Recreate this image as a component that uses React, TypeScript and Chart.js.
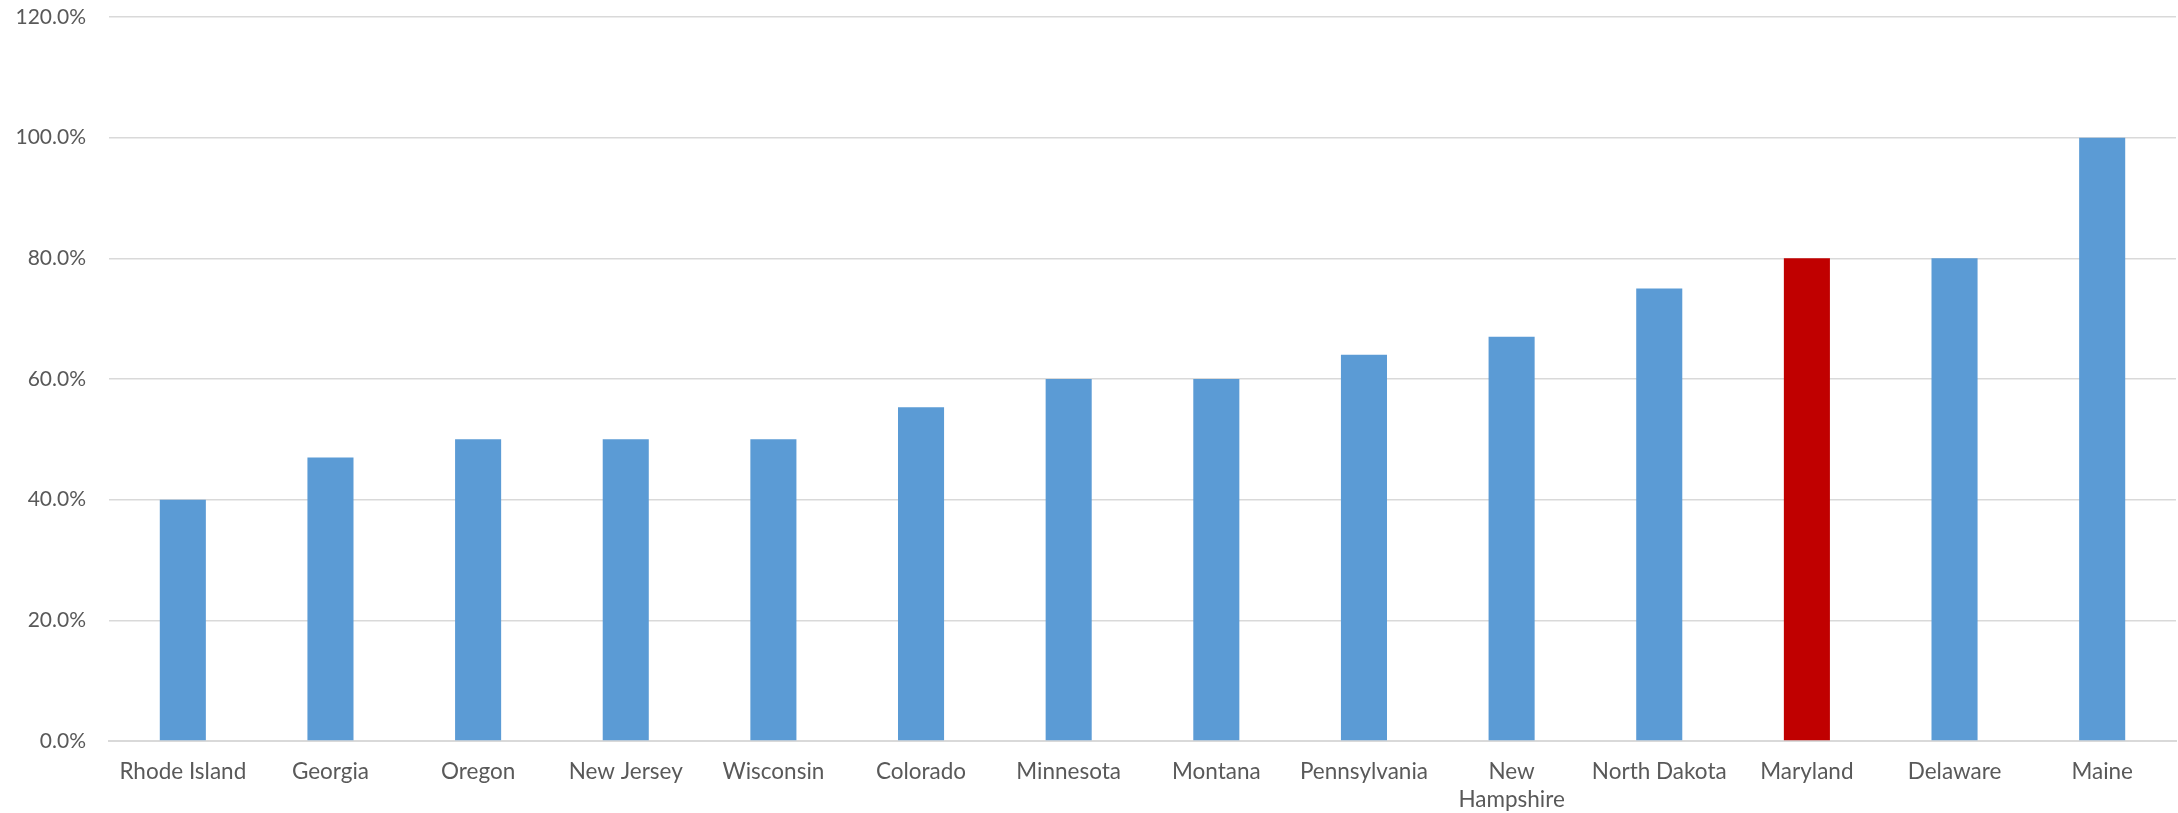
import React, { useEffect, useRef } from "react";
import { Chart, registerables } from "chart.js";

Chart.register(...registerables);

const categories: (string | string[])[] = [
  "Rhode Island",
  "Georgia",
  "Oregon",
  "New Jersey",
  "Wisconsin",
  "Colorado",
  "Minnesota",
  "Montana",
  "Pennsylvania",
  ["New", "Hampshire"],
  "North Dakota",
  "Maryland",
  "Delaware",
  "Maine",
];

const values: number[] = [40, 47, 50, 50, 50, 55.3, 60, 60, 64, 67, 75, 80, 80, 100];

const highlightIndex = 11;
const baseColor = "#5B9BD5";
const highlightColor = "#C00000";

const yMin = 0;
const yMax = 120;
const yStep = 20;

export default function App() {
  const canvasRef = useRef<HTMLCanvasElement | null>(null);

  useEffect(() => {
    document.body.style.margin = "0";
    const canvas = canvasRef.current;
    if (!canvas) return;
    const chart = new Chart(canvas, {
      type: "bar",
      data: {
        labels: categories,
        datasets: [
          {
            data: values,
            backgroundColor: values.map((_, i) => (i === highlightIndex ? highlightColor : baseColor)),
            borderWidth: 0,
            barPercentage: 0.312,
            categoryPercentage: 1,
          },
        ],
      },
      options: {
        animation: false,
        responsive: false,
        maintainAspectRatio: false,
        layout: { autoPadding: false, padding: { top: 17, right: 2, bottom: 0, left: 0 } },
        plugins: {
          legend: { display: false },
          tooltip: { enabled: false },
          title: { display: false },
        },
        scales: {
          x: {
            grid: { display: false, drawTicks: false },
            border: { display: true, color: "#d9d9d9", width: 2 },
            ticks: {
              color: "#595959",
              font: { family: "Lato", size: 22.5, lineHeight: 1.28 },
              padding: 16,
              maxRotation: 0,
              minRotation: 0,
              autoSkip: false,
            },
            afterFit: (scale: any) => {
              scale.height = 72;
            },
          },
          y: {
            min: yMin,
            max: yMax,
            grid: { color: "#d9d9d9", lineWidth: 1.5, drawTicks: false },
            border: { display: false },
            ticks: {
              stepSize: yStep,
              color: "#595959",
              font: { family: "Lato", size: 21, lineHeight: 1.2 },
              padding: 23,
              callback: (v: any) => Number(v).toFixed(1) + "%",
            },
            afterFit: (scale: any) => {
              scale.width = 109;
              scale.paddingTop = 0;
              scale.paddingBottom = 0;
            },
          },
        },
      },
    });
    return () => chart.destroy();
  }, []);

  return (
    <div style={{ width: 2178, height: 813 }}>
      <canvas ref={canvasRef} width={2178} height={813} style={{ width: 2178, height: 813, display: "block" }} />
    </div>
  );
}
